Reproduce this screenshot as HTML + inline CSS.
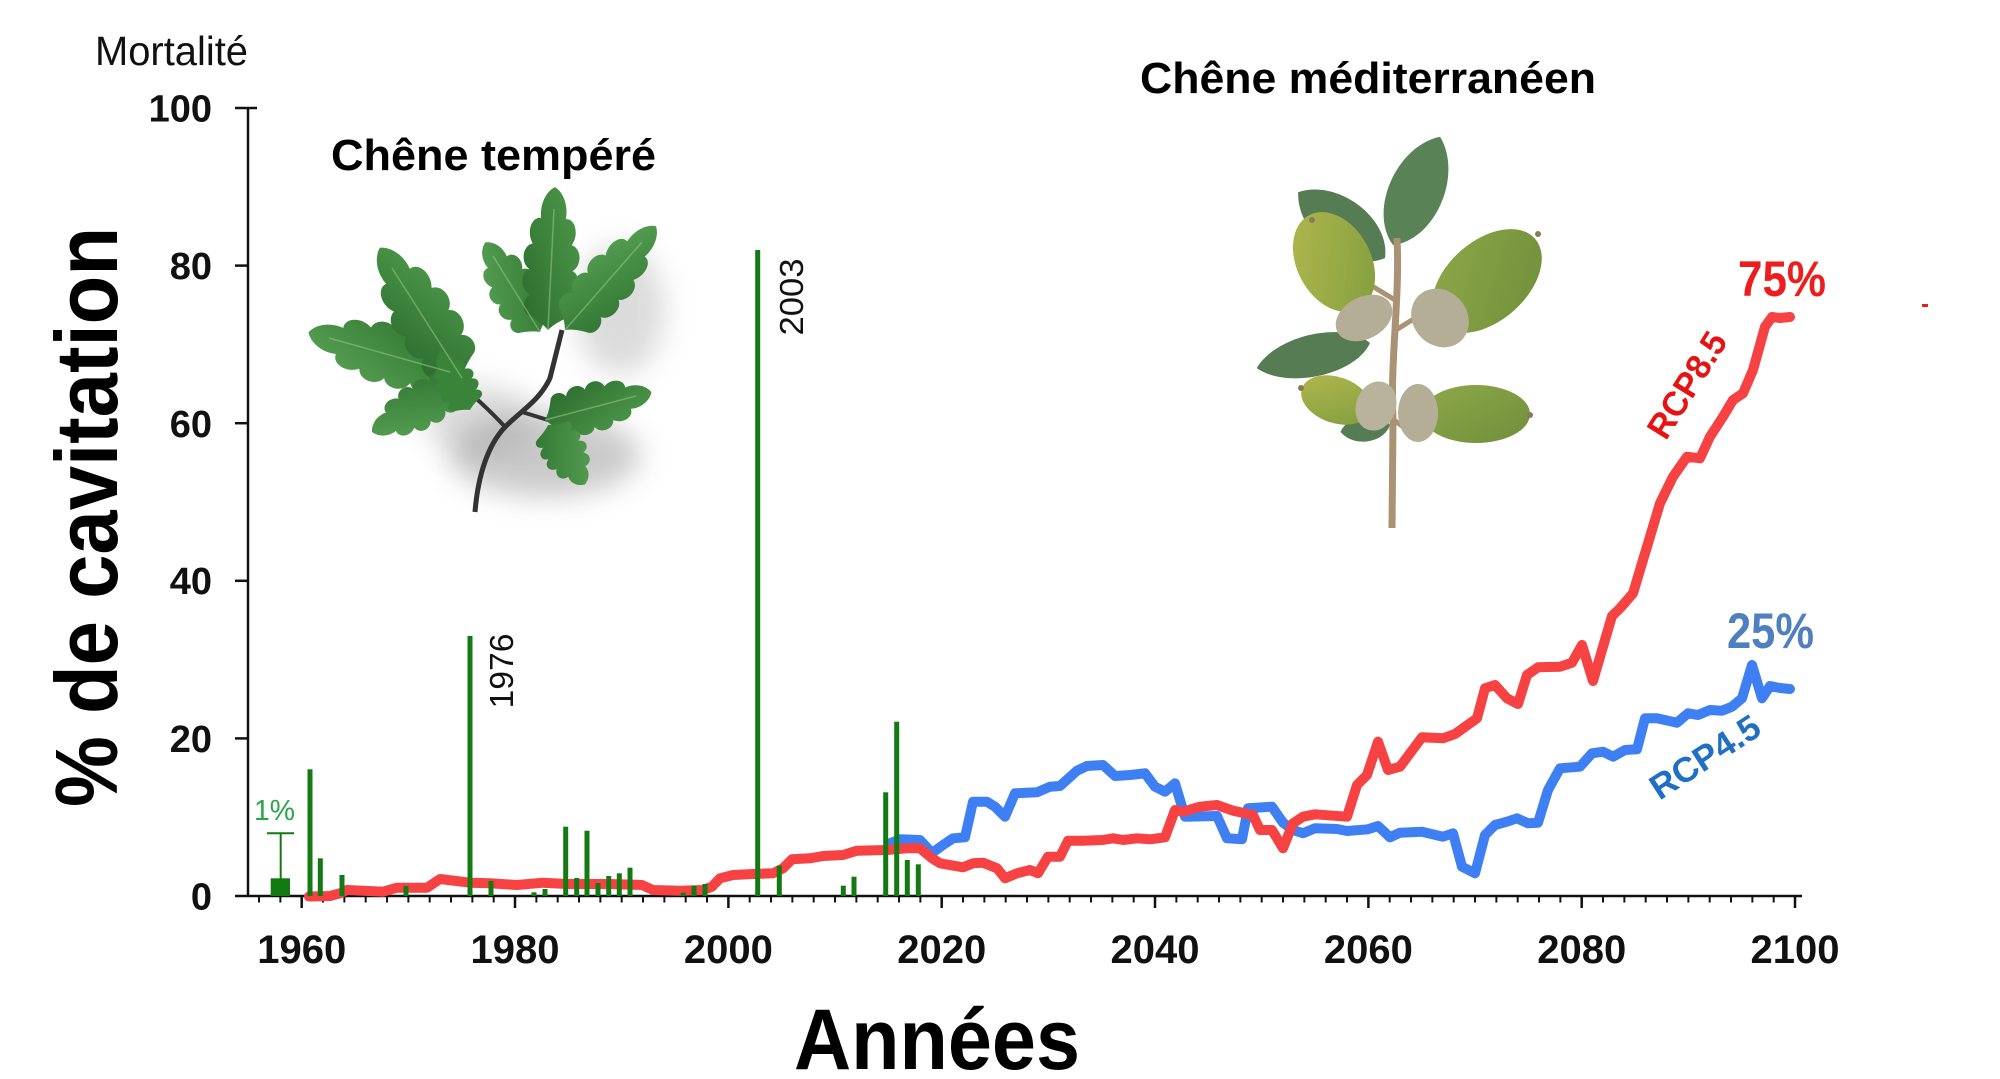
<!DOCTYPE html>
<html><head><meta charset="utf-8">
<style>
html,body{margin:0;padding:0;background:#fff;}
svg{display:block;}
text{font-family:"Liberation Sans",Arial,sans-serif;}
</style></head>
<body>
<svg width="2000" height="1079" viewBox="0 0 2000 1079" xmlns="http://www.w3.org/2000/svg">
<defs>
  <path id="oak" d="M0,0 C-5,-4 -12,-7 -18,-9 C-27,-11 -27,-21 -19,-24 C-29,-27 -30,-39 -21,-42 C-30,-46 -29,-58 -19,-60 C-26,-68 -21,-79 -12,-78 C-14,-88 -8,-97 0,-100 C8,-97 14,-88 12,-78 C21,-79 26,-68 19,-60 C29,-58 30,-46 21,-42 C30,-39 29,-27 19,-24 C27,-21 27,-11 18,-9 C12,-7 5,-4 0,0 Z"/>
  <path id="leafm" d="M0,0 C-30,-18 -30,-78 0,-100 C30,-78 30,-18 0,0 Z"/>
  <linearGradient id="gOak" x1="0" y1="0" x2="1" y2="1">
    <stop offset="0" stop-color="#5aa456"/><stop offset="1" stop-color="#2f7431"/>
  </linearGradient>
  <linearGradient id="gOak2" x1="1" y1="0" x2="0" y2="1">
    <stop offset="0" stop-color="#4f9c4c"/><stop offset="1" stop-color="#2b6a2d"/>
  </linearGradient>
  <linearGradient id="gNut" x1="0" y1="0" x2="1" y2="1">
    <stop offset="0" stop-color="#b3b94e"/><stop offset="1" stop-color="#7f9c3e"/>
  </linearGradient>
  <linearGradient id="gNut2" x1="0" y1="0" x2="1" y2="1">
    <stop offset="0" stop-color="#8fa84a"/><stop offset="1" stop-color="#6f8f3a"/>
  </linearGradient>
  <filter id="blur" x="-50%" y="-50%" width="200%" height="200%"><feGaussianBlur stdDeviation="14"/></filter>
  <pattern id="minor" patternUnits="userSpaceOnUse" x="258.03" y="896" width="21.3333" height="8">
    <rect x="0" y="0" width="2" height="8" fill="#111"/>
  </pattern>
</defs>
<rect width="2000" height="1079" fill="#fff"/>

<!-- Temperate oak illustration -->
<g>
  <ellipse cx="545" cy="455" rx="95" ry="42" fill="#8a8a8a" opacity="0.45" filter="url(#blur)"/>
  <ellipse cx="620" cy="310" rx="45" ry="65" fill="#8a8a8a" opacity="0.3" filter="url(#blur)"/>
  <ellipse cx="480" cy="420" rx="55" ry="35" fill="#8a8a8a" opacity="0.3" filter="url(#blur)"/>
  <path d="M475,512 C478,475 488,445 505,427 C522,410 540,400 550,378 L562,330" stroke="#333" stroke-width="5" fill="none"/>
  <path d="M505,427 C490,410 472,395 456,380" stroke="#333" stroke-width="4" fill="none"/>
  <path d="M522,412 L548,420" stroke="#333" stroke-width="4" fill="none"/>
  <use href="#oak" transform="translate(450,372) rotate(-74.3) scale(1.13,1.47)" fill="url(#gOak)"/>
  <use href="#oak" transform="translate(462,378) rotate(-32.2) scale(1.17,1.54)" fill="url(#gOak2)"/>
  <use href="#oak" transform="translate(458,385) rotate(-118.7) scale(0.87,0.98)" fill="url(#gOak)"/>
  <use href="#oak" transform="translate(470,410) rotate(-27.3) scale(0.75,0.65)" fill="#3a843a"/>
  <use href="#oak" transform="translate(540,332) rotate(-31.4) scale(0.92,1.05)" fill="url(#gOak)"/>
  <use href="#oak" transform="translate(548,330) rotate(2.8) scale(1.03,1.43)" fill="url(#gOak2)"/>
  <use href="#oak" transform="translate(565,330) rotate(41.2) scale(0.97,1.38)" fill="url(#gOak)"/>
  <use href="#oak" transform="translate(545,420) rotate(75.3) scale(0.92,1.1)" fill="url(#gOak2)"/>
  <use href="#oak" transform="translate(548,425) rotate(148.3) scale(0.83,0.7)" fill="url(#gOak)"/>
  <g stroke="#8cc57e" stroke-width="1.5" fill="none" opacity="0.6">
    <line x1="450" y1="372" x2="329" y2="338"/>
    <line x1="462" y1="378" x2="392" y2="268"/>
    <line x1="548" y1="330" x2="554" y2="209"/>
    <line x1="565" y1="330" x2="642" y2="242"/>
    <line x1="540" y1="332" x2="493" y2="256"/>
    <line x1="545" y1="420" x2="636" y2="396"/>
  </g>
</g>

<!-- Mediterranean oak illustration -->
<g>
  <use href="#leafm" transform="translate(1385,258) rotate(-52.8) scale(1.16,1.09)" fill="#557c52"/>
  <use href="#leafm" transform="translate(1393,245) rotate(23.5) scale(1.22,1.18)" fill="#5a8257"/>
  <use href="#leafm" transform="translate(1370,343) rotate(-102.5) scale(0.93,1.16)" fill="#557c52"/>
  <use href="#leafm" transform="translate(1390,425) rotate(-98) scale(0.58,0.5)" fill="#557c52"/>
  <path d="M1397,238 C1400,300 1390,360 1393,420 L1392,528" stroke="#a99374" stroke-width="7" fill="none"/>
  <path d="M1395,300 L1372,286 M1396,330 L1420,315 M1394,420 L1410,432" stroke="#a99374" stroke-width="5" fill="none"/>
  <ellipse cx="1334" cy="262" rx="37" ry="53" transform="rotate(-28 1334 262)" fill="url(#gNut)"/>
  <ellipse cx="1364" cy="318" rx="30" ry="21" transform="rotate(-28 1364 318)" fill="#b5ae96"/>
  <ellipse cx="1487" cy="281" rx="64" ry="40" transform="rotate(-41.5 1487 281)" fill="url(#gNut2)"/>
  <ellipse cx="1440" cy="318" rx="27" ry="31" transform="rotate(-41.5 1440 318)" fill="#b5ae96"/>
  <ellipse cx="1336" cy="400" rx="36" ry="23" transform="rotate(19 1336 400)" fill="url(#gNut)"/>
  <ellipse cx="1376" cy="406" rx="20" ry="25" transform="rotate(19 1376 406)" fill="#bab39c"/>
  <ellipse cx="1476" cy="414" rx="54" ry="29" fill="url(#gNut2)"/>
  <ellipse cx="1418" cy="413" rx="20" ry="29" fill="#b5ae96"/>
  <circle cx="1312" cy="220" r="3" fill="#8a7a5a"/>
  <circle cx="1538" cy="234" r="3" fill="#8a7a5a"/>
  <circle cx="1301" cy="388" r="3" fill="#8a7a5a"/>
  <circle cx="1530" cy="415" r="3" fill="#8a7a5a"/>
</g>

<!-- Axes -->
<line x1="248" y1="107" x2="248" y2="897" stroke="#111" stroke-width="2.5"/>
<line x1="235" y1="896" x2="1802" y2="896" stroke="#111" stroke-width="2.5"/>
<line x1="235" y1="108" x2="257" y2="108" stroke="#111" stroke-width="2.5"/>
<g stroke="#111" stroke-width="2.5">
  <line x1="235" y1="265.6" x2="248" y2="265.6"/>
  <line x1="235" y1="423.2" x2="248" y2="423.2"/>
  <line x1="235" y1="580.8" x2="248" y2="580.8"/>
  <line x1="235" y1="738.4" x2="248" y2="738.4"/>
</g>
<rect x="258" y="896" width="1540" height="6.5" fill="url(#minor)"/>
<g stroke="#111" stroke-width="2.5">
  <line x1="301.7" y1="896" x2="301.7" y2="908"/>
  <line x1="515" y1="896" x2="515" y2="908"/>
  <line x1="728.4" y1="896" x2="728.4" y2="908"/>
  <line x1="941.7" y1="896" x2="941.7" y2="908"/>
  <line x1="1155" y1="896" x2="1155" y2="908"/>
  <line x1="1368.4" y1="896" x2="1368.4" y2="908"/>
  <line x1="1581.7" y1="896" x2="1581.7" y2="908"/>
  <line x1="1795" y1="896" x2="1795" y2="908"/>
</g>

<!-- Tick labels -->
<g font-size="38" font-weight="bold" text-anchor="end" fill="#111">
  <text x="212" y="121.5">100</text>
  <text x="212" y="279">80</text>
  <text x="212" y="437">60</text>
  <text x="212" y="594">40</text>
  <text x="212" y="752">20</text>
  <text x="212" y="909.5">0</text>
</g>
<g font-size="40" font-weight="bold" text-anchor="middle" fill="#111">
  <text x="301.7" y="963">1960</text>
  <text x="515" y="963">1980</text>
  <text x="728.4" y="963">2000</text>
  <text x="941.7" y="963">2020</text>
  <text x="1155" y="963">2040</text>
  <text x="1368.4" y="963">2060</text>
  <text x="1581.7" y="963">2080</text>
  <text x="1795" y="963">2100</text>
</g>

<!-- Titles -->
<text x="95" y="65" font-size="41" textLength="153" lengthAdjust="spacingAndGlyphs" fill="#111">Mortalité</text>
<text x="331" y="170" font-size="44" font-weight="bold" textLength="325" lengthAdjust="spacingAndGlyphs" fill="#000">Chêne tempéré</text>
<text x="1140" y="93" font-size="44" font-weight="bold" textLength="456" lengthAdjust="spacingAndGlyphs" fill="#000">Chêne méditerranéen</text>
<text x="794" y="1069" font-size="86" font-weight="bold" textLength="286" lengthAdjust="spacingAndGlyphs" fill="#000">Années</text>
<text transform="translate(117,517) rotate(-90)" text-anchor="middle" font-size="88" font-weight="bold" textLength="580" lengthAdjust="spacingAndGlyphs" fill="#000">% de cavitation</text>

<!-- Series lines -->
<polyline fill="none" stroke="#3f7ff4" stroke-width="10" stroke-linejoin="round" stroke-linecap="round" points="890,843.3 900,839.3 920,840 932,853 943,845 953,838.3 965,837.3 973,801.7 987,801.7 995,806.7 1005,816.7 1015,793.3 1037,792.3 1050,786.7 1060,786 1077,770.7 1087,766 1103,765 1115,776 1130,775 1145,773.3 1155,786.7 1165,791.7 1175,783.3 1185,816.7 1217,816 1227,838.3 1242,839.3 1248,808.3 1272,806.7 1283,822.7 1293,830 1303,833.3 1315,828.3 1337,829 1347,831 1368,829.3 1378,826 1390,837.3 1400,832.7 1422,831.7 1443,836.7 1453,833.3 1462,866.7 1475,873.3 1485,835 1495,825 1507,821.7 1517,818.3 1528,823.3 1538,822.7 1548,790 1560,768.3 1580,766.7 1592,753.3 1603,751.7 1613,756.7 1625,750 1637,749.3 1645,718.3 1657,718.3 1677,722.7 1688,713.3 1698,715 1710,710 1722,710.7 1732,706.7 1742,698.3 1752,665 1762,698.3 1770,686 1780,688 1790,689"/>
<polyline fill="none" stroke="#f64242" stroke-width="10" stroke-linejoin="round" stroke-linecap="round" points="309,896.5 330,896 340,893.3 347,890 383,891.7 397,887.7 427,887.7 440,879 470,882.7 490,883.3 517,885 543,882.7 567,884 610,884 642,885 653,890 680,890.7 703,890 712,886.7 720,878.3 733,875 753,874 773,873.3 783,868.3 792,859.3 810,858.3 823,856 843,855 857,850.7 887,850 907,848.3 920,848.3 932,858.3 940,863.3 963,867.3 973,863.3 983,862.7 997,868.3 1005,878.3 1017,873.3 1030,870 1038,873.3 1048,856.7 1060,856.7 1068,840.7 1083,840.7 1103,840 1113,838.3 1123,840 1137,838.3 1150,839.3 1165,837.3 1175,810 1183,811.7 1200,806.7 1217,805 1233,810.7 1253,815 1260,830 1272,830 1283,848.3 1293,823.3 1303,816.7 1315,814.3 1347,816.7 1357,785 1367,775 1378,741.7 1388,770 1400,766.7 1422,737.3 1443,738.3 1455,734 1477,718.3 1485,688.3 1495,685 1507,698.3 1518,704 1527,675 1538,667.3 1560,666.7 1572,662.7 1582,645 1593,681 1603,646.7 1612,616 1620,608.3 1633,593.3 1640,570 1650,536.7 1660,503.3 1673,476.7 1687,456.7 1700,458.3 1710,436.7 1723,416.7 1733,400 1743,393.3 1753,370 1765,326.7 1772,317 1780,318 1790,317"/>

<!-- Mortality bars -->
<g fill="#137a13">
  <rect x="307.5" y="769.3" width="5" height="126.7"/>
  <rect x="317.8" y="858.3" width="5" height="37.7"/>
  <rect x="339.5" y="875" width="5" height="21"/>
  <rect x="403.5" y="886" width="5" height="10"/>
  <rect x="467.5" y="636" width="5" height="260"/>
  <rect x="488.5" y="881" width="5" height="15"/>
  <rect x="531.5" y="892.3" width="5" height="3.7"/>
  <rect x="542.5" y="889" width="5" height="7"/>
  <rect x="563.2" y="826.7" width="5" height="69.3"/>
  <rect x="574.2" y="878" width="5" height="18"/>
  <rect x="584.5" y="830.7" width="5" height="65.3"/>
  <rect x="595.5" y="883" width="5" height="13"/>
  <rect x="606.2" y="876" width="5" height="20"/>
  <rect x="616.8" y="873.3" width="5" height="22.7"/>
  <rect x="627.5" y="867.7" width="5" height="28.3"/>
  <rect x="680.8" y="892.7" width="5" height="3.3"/>
  <rect x="691.5" y="885.7" width="5" height="10.3"/>
  <rect x="702.5" y="884" width="5" height="12"/>
  <rect x="755.2" y="250" width="5" height="646"/>
  <rect x="776.8" y="865.7" width="5" height="30.3"/>
  <rect x="840.8" y="885.7" width="5" height="10.3"/>
  <rect x="851.5" y="876.7" width="5" height="19.3"/>
  <rect x="883.2" y="792.3" width="5" height="103.7"/>
  <rect x="894.2" y="721.7" width="5" height="174.3"/>
  <rect x="904.8" y="860" width="5" height="36"/>
  <rect x="915.8" y="864.3" width="5" height="31.7"/>
</g>

<!-- 1% error bar -->
<rect x="270.7" y="878.3" width="19.3" height="17.7" fill="#137a13"/>
<line x1="280.7" y1="833.3" x2="280.7" y2="879" stroke="#137a13" stroke-width="2"/>
<line x1="267" y1="833.3" x2="294" y2="833.3" stroke="#137a13" stroke-width="2"/>
<text x="254" y="820" font-size="29" textLength="41" lengthAdjust="spacingAndGlyphs" fill="#2aa34a">1%</text>

<!-- Year annotations -->
<text transform="translate(513,671) rotate(-90)" text-anchor="middle" font-size="33" textLength="75" lengthAdjust="spacingAndGlyphs" fill="#111">1976</text>
<text transform="translate(803,297) rotate(-90)" text-anchor="middle" font-size="33" textLength="77" lengthAdjust="spacingAndGlyphs" fill="#111">2003</text>

<!-- Series labels -->
<text x="1738" y="296" font-size="50" font-weight="bold" textLength="88" lengthAdjust="spacingAndGlyphs" fill="#ee1c1c">75%</text>
<text x="1727" y="648" font-size="50" font-weight="bold" textLength="87" lengthAdjust="spacingAndGlyphs" fill="#4f7fbf">25%</text>
<text transform="translate(1687,385) rotate(-58)" x="0" y="12" text-anchor="middle" font-size="35" font-weight="bold" textLength="118" lengthAdjust="spacingAndGlyphs" fill="#e81212">RCP8.5</text>
<text transform="translate(1705,757) rotate(-33)" x="0" y="12" text-anchor="middle" font-size="35" font-weight="bold" textLength="124" lengthAdjust="spacingAndGlyphs" fill="#1f6fc4">RCP4.5</text>
<rect x="1922" y="304" width="6" height="3" fill="#ee1c1c"/>
</svg>
</body></html>
